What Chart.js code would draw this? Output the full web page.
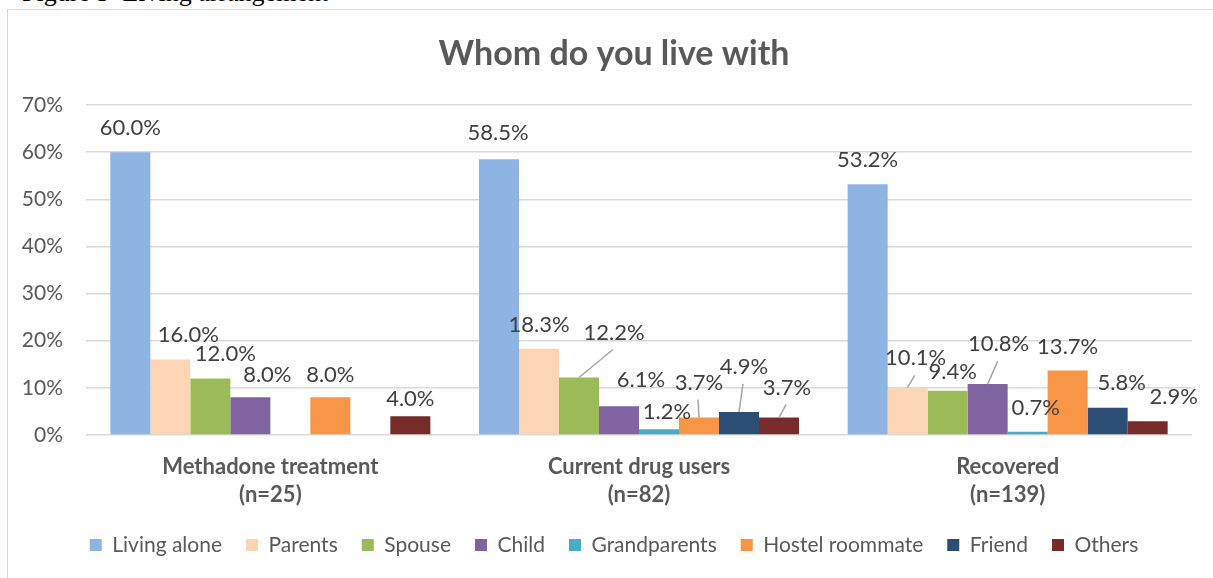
<!DOCTYPE html>
<html>
<head>
<meta charset="utf-8">
<title>Whom do you live with</title>
<script src="https://cdn.jsdelivr.net/npm/chart.js@4"></script>
<style>
  html, body { margin: 0; padding: 0; background: #fff; overflow: hidden; }
  #caption {
    position: absolute; left: 22px; top: -20px;
    font-family: "Liberation Serif", "DejaVu Serif", serif;
    font-size: 26px; line-height: 25px; color: #000; white-space: pre;
  }
  #frame {
    position: absolute; left: 7px; top: 9px; width: 1240px; height: 600px;
    border: 1px solid #d9d9d9;
  }
  #wrap { position: absolute; left: 0; top: 0; width: 1228px; height: 578px; }
</style>
</head>
<body>
<div id="caption">Figure 5  Living arrangement</div>
<div id="frame"></div>
<div id="wrap"><canvas id="myChart"></canvas></div>
<script>
// groups on the x axis
const groups = [
    ['Methadone treatment', '(n=25)'],
    ['Current drug users', '(n=82)'],
    ['Recovered', '(n=139)']
];

// percentage living with each kind of person, one value per group
const living_alone = [60.0, 58.5, 53.2];
const parents = [16.0, 18.3, 10.1];
const spouse = [12.0, 12.2, 9.4];
const child = [8.0, 6.1, 10.8];
const grandparents = [null, 1.2, 0.7];
const hostel_roommate = [8.0, 3.7, 13.7];
const friend = [null, 4.9, 5.8];
const others = [4.0, 3.7, 2.9];

const y_ticks = [0, 10, 20, 30, 40, 50, 60, 70];

const series = [
    { label: 'Living alone', data: living_alone, color: '#8EB4E3' },
    { label: 'Parents', data: parents, color: '#FCD5B5' },
    { label: 'Spouse', data: spouse, color: '#9BBB59' },
    { label: 'Child', data: child, color: '#8064A2' },
    { label: 'Grandparents', data: grandparents, color: '#4BACC6' },
    { label: 'Hostel roommate', data: hostel_roommate, color: '#F79646' },
    { label: 'Friend', data: friend, color: '#2C4D75' },
    { label: 'Others', data: others, color: '#772C2A' }
];

// nudges for the value labels [dx, dy, leader line], per series then per group
const label_nudge = [
    [[0, -4], [-1, -6], [0, -4]],
    [[18, -5], [0, -4], [8, -9, true]],
    [[15, -5], [35, -25, true], [5, 1]],
    [[17, -2], [22, -6], [11, -20, true]],
    [[0, 0], [8, 3], [8, -4]],
    [[0, -2], [0, -15, true], [0, -4]],
    [[0, 0], [5, -25, true], [14, -5]],
    [[0, 3], [8, -10, true], [26, -4]]
];

const valueLabels = {
    id: 'valueLabels',
    afterDatasetsDraw(chart) {
        const ctx = chart.ctx;
        ctx.save();
        ctx.font = '22px Lato';
        ctx.fillStyle = '#404040';
        ctx.textAlign = 'center';
        ctx.textBaseline = 'middle';
        chart.data.datasets.forEach((ds, i) => {
            const meta = chart.getDatasetMeta(i);
            meta.data.forEach((bar, j) => {
                const v = ds.data[j];
                if (v === null) return;
                const n = label_nudge[i][j];
                const x = bar.x + n[0];
                const y = bar.y - 20 + n[1];
                if (n[2]) {
                    ctx.strokeStyle = '#a6a6a6';
                    ctx.lineWidth = 1.5;
                    ctx.beginPath();
                    ctx.moveTo(bar.x, bar.y);
                    ctx.lineTo(x - 1, y + 17);
                    ctx.stroke();
                }
                ctx.fillText(v.toFixed(1) + '%', x, y);
            });
        });
        ctx.restore();
    }
};

const ctx = document.getElementById('myChart').getContext('2d');
const myChart = new Chart(ctx, {
    type: 'bar',
    data: {
        labels: groups,
        datasets: series.map(s => ({
            label: s.label,
            data: s.data,
            backgroundColor: s.color,
            borderWidth: 0,
            categoryPercentage: 0.868,
            barPercentage: 1.0
        }))
    },
    options: {
        responsive: true,
        maintainAspectRatio: false,
        animation: false,
        layout: { padding: { left: 0, right: 0, top: 0, bottom: 12.5 } },
        plugins: {
            title: {
                display: true,
                text: 'Whom do you live with',
                color: '#595959',
                font: { family: 'Lato', size: 34, weight: 'bold', lineHeight: 1.2 },
                padding: { top: 33.6, bottom: 30.6 }
            },
            legend: {
                position: 'bottom',
                labels: {
                    boxWidth: 12,
                    boxHeight: 12,
                    padding: 24,
                    color: '#595959',
                    font: { family: 'Lato', size: 21 }
                }
            },
            tooltip: { enabled: false }
        },
        scales: {
            x: {
                grid: { display: false, drawTicks: false },
                border: { display: false },
                ticks: {
                    color: '#595959',
                    padding: 18,
                    maxRotation: 0,
                    font: { family: 'Lato', size: 22, weight: 'bold', lineHeight: 28 / 22 }
                },
                afterFit(scale) { scale.height = 75.5; }
            },
            y: {
                min: 0,
                max: 70,
                afterBuildTicks(scale) { scale.ticks = y_ticks.map(v => ({ value: v })); },
                grid: { color: '#d9d9d9', lineWidth: 1.5, drawTicks: false },
                border: { display: false },
                ticks: {
                    color: '#595959',
                    padding: 23,
                    font: { family: 'Lato', size: 21 },
                    callback: v => v + '%'
                },
                afterFit(scale) { scale.width = 86; }
            },
            // empty strip on the right so the title and legend sit centred over the frame
            spacer: {
                position: 'right',
                grid: { display: false, drawTicks: false },
                border: { display: false },
                ticks: { display: false },
                afterFit(scale) { scale.width = 36; }
            }
        }
    },
    plugins: [valueLabels]
});
</script>
</body>
</html>
